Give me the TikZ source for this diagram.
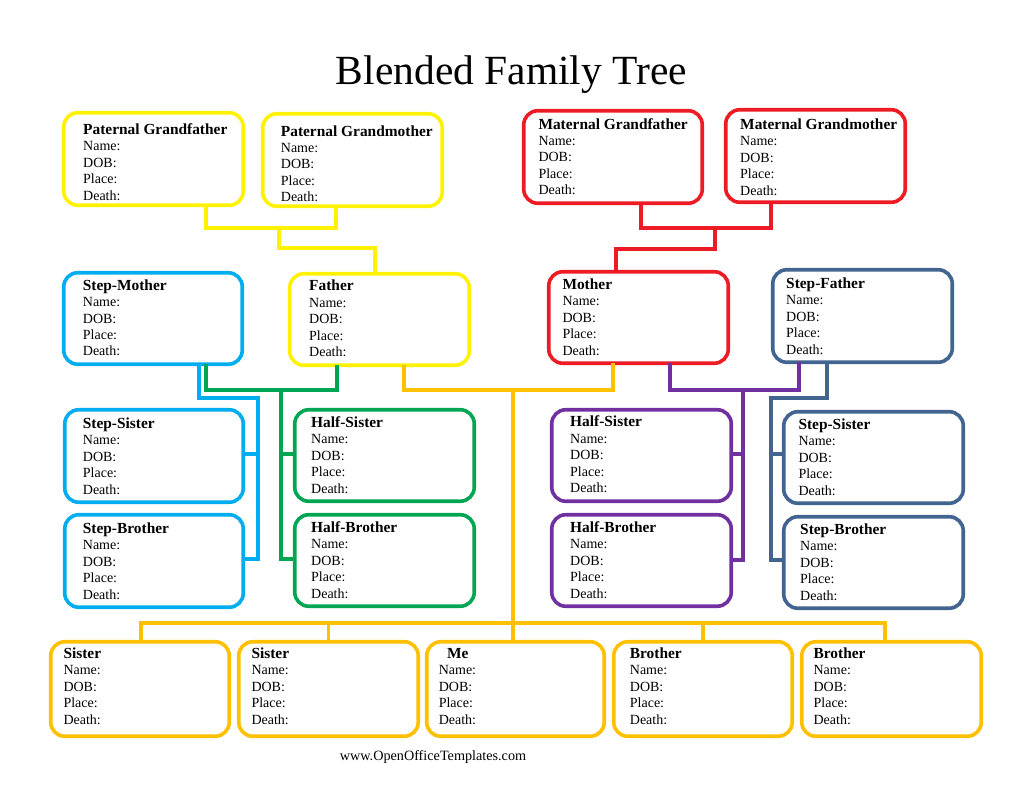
\documentclass[tikz,border=0pt]{standalone}
\usepackage{fontspec}
\setmainfont{Liberation Serif}
\definecolor{famyel}{RGB}{255,242,0}
\definecolor{famred}{RGB}{237,28,36}
\definecolor{famcyan}{RGB}{0,174,239}
\definecolor{famgreen}{RGB}{0,166,81}
\definecolor{famgold}{RGB}{255,192,0}
\definecolor{fampurple}{RGB}{112,48,160}
\definecolor{famblue}{RGB}{65,100,145}
\newcommand{\famtitlefont}{\fontsize{15.4}{16.4}\selectfont\bfseries}
\newcommand{\famcard}[9]{%
  \node[card, draw=#2, minimum width={#5-#3-3.5}, minimum height={#6-#4-3.5}] (#1) at ({(#3+#5)/2},{(#4+#6)/2}) {};
  \node[cardtext] (#1-t) at (#7,{#8-11}) {\rule{0pt}{11pt}{\famtitlefont #9}\\Name:\\DOB:\\Place:\\Death:};
}
\tikzset{
  card/.style={rectangle, rounded corners=14pt, line width=3.6pt, inner sep=0pt, outer sep=0pt},
  cardtext/.style={anchor=north west, inner sep=0pt, align=left, font=\fontsize{14}{16.4}\selectfont},
  conn/.style={line width=3.4pt, line join=miter}
}
\begin{document}
\begin{tikzpicture}[x=1pt,y=-1pt]
\useasboundingbox (0,0) rectangle (1024,791);
\fill[white] (0,0) rectangle (1024,791);

\node[font=\fontsize{41.5}{48}\selectfont, anchor=base] (title) at (511.5,85) {Blended Family Tree};
\node[font=\fontsize{14.2}{16}\selectfont, anchor=base] (footer) at (433,760.7) {www.OpenOfficeTemplates.com};

% cards
\famcard{pgf}{famyel}{62}{111}{245}{207}{83}{134.3}{Paternal Grandfather}
\famcard{pgm}{famyel}{261}{112}{444}{208}{280.7}{136}{Paternal Grandmother}
\famcard{mgf}{famred}{522}{109}{704}{205}{538.3}{129}{Maternal Grandfather}
\famcard{mgm}{famred}{724}{108}{907}{204}{740}{129.3}{Maternal Grandmother}
\famcard{sm}{famcyan}{62}{271}{244}{366}{82.7}{290}{Step-Mother}
\famcard{father}{famyel}{288}{272}{471}{367}{309}{290.7}{Father}
\famcard{mother}{famred}{547}{270}{730}{365}{562.3}{289.3}{Mother}
\famcard{sf}{famblue}{771}{268}{954}{364}{786}{288.3}{Step-Father}
\famcard{ssL}{famcyan}{63}{408}{245}{504}{82.7}{428.3}{Step-Sister}
\famcard{sbL}{famcyan}{63}{513}{245}{609}{82.7}{533.3}{Step-Brother}
\famcard{hsL}{famgreen}{293}{408}{476}{503}{311}{427.3}{Half-Sister}
\famcard{hbL}{famgreen}{293}{513}{476}{608}{311}{532.3}{Half-Brother}
\famcard{hsR}{fampurple}{550}{408}{733}{503}{570}{426.7}{Half-Sister}
\famcard{hbR}{fampurple}{550}{513}{733}{608}{570}{532.3}{Half-Brother}
\famcard{ssR}{famblue}{782}{410}{965}{505}{798.3}{429.3}{Step-Sister}
\famcard{sbR}{famblue}{782}{515}{965}{610}{800}{534.3}{Step-Brother}
\famcard{s1}{famgold}{49}{640}{231}{738}{63.3}{658.3}{Sister}
\famcard{s2}{famgold}{237}{640}{420}{738}{251.3}{658.3}{Sister}
\famcard{me}{famgold}{425}{640}{606}{738}{438.6}{658.3}{\hspace{8.4pt}Me}
\famcard{b1}{famgold}{612}{640}{794}{738}{629.7}{658.3}{Brother}
\famcard{b2}{famgold}{800}{640}{983}{738}{813.4}{658.3}{Brother}

% junction coordinates
\coordinate (pA) at (206,228); \coordinate (pB) at (336,228);
\coordinate (pC) at (279,228); \coordinate (pD) at (375,248);
\coordinate (mA) at (641,228); \coordinate (mB) at (771,228);
\coordinate (mC) at (715,228); \coordinate (mD) at (616,249);
\coordinate (gA) at (404,390); \coordinate (gB) at (613,390);
\coordinate (gC) at (513,390);
\coordinate (bL) at (141,623); \coordinate (bR) at (885,623);
\coordinate (grA) at (206,390); \coordinate (grB) at (337,390);
\coordinate (grC) at (281,390); \coordinate (grD) at (281,559);
\coordinate (grE) at (281,454);
\coordinate (cA) at (199,398); \coordinate (cB) at (258,398);
\coordinate (cC) at (258,559); \coordinate (cE) at (258,454);
\coordinate (puA) at (670,390); \coordinate (puB) at (799,390);
\coordinate (puC) at (743,390); \coordinate (puD) at (743,560);
\coordinate (puE) at (743,454);
\coordinate (blA) at (827,398); \coordinate (blB) at (771,398);
\coordinate (blC) at (771,560); \coordinate (blE) at (771,454);

% paternal
\draw[conn, famyel] (pgf.south -| pA) -- (pA) -- (pB) -- (pgm.south -| pB);
\draw[conn, famyel] (pC) |- (pD) -- (father.north -| pD);
% maternal
\draw[conn, famred] (mgf.south -| mA) -- (mA) -- (mB) -- (mgm.south -| mB);
\draw[conn, famred] (mC) |- (mD) -- (mother.north -| mD);
% parents to children
\draw[conn, famgold] (father.south -| gA) -- (gA) -- (gB) -- (mother.south -| gB);
\draw[conn, famgold] (gC) -- (me.north -| gC);
\draw[conn, famgold] (s1.north -| bL) -- (bL) -- (bR) -- (b2.north -| bR);
\draw[conn, famgold] (s2.north) -- (s2.north |- bL);
\draw[conn, famgold] (b1.north) -- (b1.north |- bL);
% father + step-mother
\draw[conn, famgreen] (sm.south -| grA) -- (grA) -- (grB) -- (father.south -| grB);
\draw[conn, famgreen] (grC) -- (grD) -- (hbL.west |- grD);
\draw[conn, famgreen] (grE) -- (hsL.west |- grE);
% step-mother's children
\draw[conn, famcyan] (sm.south -| cA) -- (cA) -- (cB) -- (cC) -- (sbL.east |- cC);
\draw[conn, famcyan] (cE) -- (ssL.east |- cE);
% mother + step-father
\draw[conn, fampurple] (mother.south -| puA) -- (puA) -- (puB) -- (sf.south -| puB);
\draw[conn, fampurple] (puC) -- (puD) -- (hbR.east |- puD);
\draw[conn, fampurple] (puE) -- (hsR.east |- puE);
% step-father's children
\draw[conn, famblue] (sf.south -| blA) -- (blA) -- (blB) -- (blC) -- (sbR.west |- blC);
\draw[conn, famblue] (blE) -- (ssR.west |- blE);
\end{tikzpicture}
\end{document}
